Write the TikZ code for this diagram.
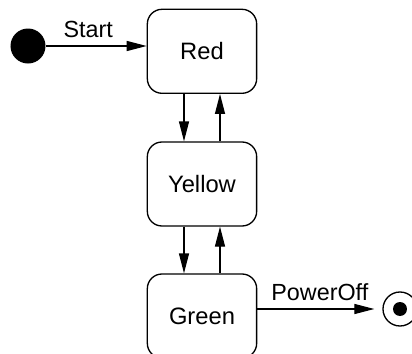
\documentclass[tikz,border=0pt]{standalone}
\usepackage{fontspec}
\setmainfont{Liberation Sans}
\usepackage{tikz}
\usetikzlibrary{arrows.meta}
\usetikzlibrary{calc}
\usetikzlibrary{positioning}
\tikzset{state/.style={draw, line width=1pt, rounded corners=11pt, minimum width=82pt, minimum height=63pt, font=\fontsize{17.8}{20}\selectfont},
         trans/.style={draw, line width=1pt, -{Triangle[length=15pt,width=7.5pt]}},
         translabel/.style={font=\fontsize{17.5}{20}\selectfont, above, inner sep=3pt, yshift=3pt}}

\begin{document}
\begin{tikzpicture}[x=0.75pt, y=-0.75pt]
    \useasboundingbox (0,0) rectangle (412,354);
    \clip (0,0) rectangle (412,354);
    \node[state] (Red) at (202,51.3) {Red};
    \node[state] (Yellow) at (202,184) {Yellow};
    \node[state] (Green) at (202,316) {Green};
    \node[circle, fill, minimum size=26.25pt, inner sep=0pt] (Init) at (28,46) {};
    \node[circle, draw, line width=1pt, minimum size=25.5pt, inner sep=0pt] (Final) at (400,309) {};
    \fill (Final.center) circle (7);
  \path[every edge/.style={trans}]
    (Init.east) edge node[translabel, xshift=-6pt] {Start} (Init.east -| Red.west)
    ($(Red.south)+(-18,0)$) edge ($(Yellow.north)+(-18,0)$)
    ($(Yellow.north)+(18,0)$) edge ($(Red.south)+(18,0)$)
    ($(Yellow.south)+(-18,0)$) edge ($(Green.north)+(-18,0)$)
    ($(Green.north)+(18,0)$) edge ($(Yellow.south)+(18,0)$)
    (Final.west -| Green.east) edge[shorten >=6pt] node[translabel] {PowerOff} (Final.west);
  \end{tikzpicture}
\end{document}
